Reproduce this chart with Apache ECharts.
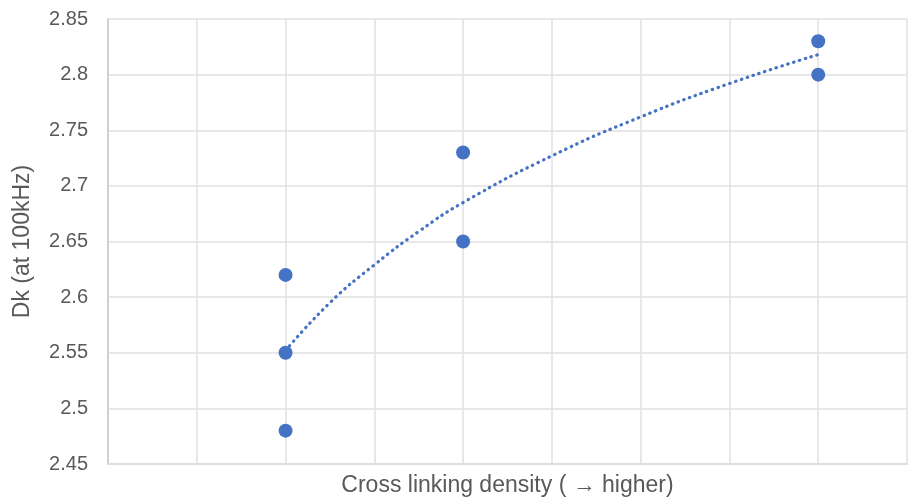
<!DOCTYPE html>
<html>
<head>
<meta charset="utf-8">
<script src="https://cdn.jsdelivr.net/npm/echarts@6/dist/echarts.min.js"></script>
<style>html,body{margin:0;padding:0;background:#fff}#c{width:911px;height:497px}</style>
</head>
<body>
<div id="c"></div>
<script>
var pointX = [2, 2, 2, 4, 4, 8, 8];
var pointY = [2.62, 2.55, 2.48, 2.73, 2.65, 2.83, 2.80];
var trendX = [2, 2.5, 3, 3.5, 4, 5, 6, 7, 8];
var trendY = [2.552, 2.595, 2.629, 2.659, 2.685, 2.727, 2.762, 2.792, 2.818];
var yTicks = [2.45, 2.5, 2.55, 2.6, 2.65, 2.7, 2.75, 2.8, 2.85];

var FONT = 'Helvetica, Arial, "Liberation Sans", sans-serif';
var chart = echarts.init(document.getElementById('c'), null, {renderer: 'canvas'});
chart.setOption({
  animation: false,
  grid: {left: 108, right: 4, top: 19, bottom: 33, containLabel: false, outerBoundsMode: 'none'},
  xAxis: {
    type: 'value', min: 0, max: 9, interval: 1,
    name: 'Cross linking density ( \u2192 higher)',
    nameLocation: 'middle', nameGap: 10,
    nameTextStyle: {fontFamily: FONT, fontSize: 23, color: '#595959'},
    axisLabel: {show: false},
    axisTick: {show: false},
    axisLine: {show: true, lineStyle: {color: '#d9d9d9', width: 1.5}},
    splitLine: {show: true, lineStyle: {color: '#e0e0e0', width: 1.5}}
  },
  yAxis: {
    type: 'value', min: 2.45, max: 2.85, interval: 0.05,
    name: 'Dk (at 100kHz)',
    nameLocation: 'middle', nameGap: 74, nameRotate: 90,
    nameTextStyle: {fontFamily: FONT, fontSize: 23, color: '#595959'},
    axisLabel: {
      fontFamily: FONT, fontSize: 20, color: '#595959', margin: 20,
      formatter: function (v) {
        for (var i = 0; i < yTicks.length; i++) { if (Math.abs(yTicks[i] - v) < 1e-6) return String(yTicks[i]); }
        return '';
      }
    },
    axisTick: {show: false},
    axisLine: {show: true, lineStyle: {color: '#c8c8c8', width: 1.5}},
    splitLine: {show: true, lineStyle: {color: '#e0e0e0', width: 1.5}}
  },
  series: [
    {
      type: 'line', smooth: true, symbol: 'none',
      data: trendX.map(function (x, i) { return [x, trendY[i]]; }),
      lineStyle: {color: '#4472C4', width: 3.2, type: [0.5, 5.6], cap: 'round', opacity: 1},
      z: 2
    },
    {
      type: 'scatter', symbolSize: 14,
      data: pointX.map(function (x, i) { return [x, pointY[i]]; }),
      itemStyle: {color: '#4472C4', opacity: 1},
      z: 3
    }
  ]
});
</script>
</body>
</html>
